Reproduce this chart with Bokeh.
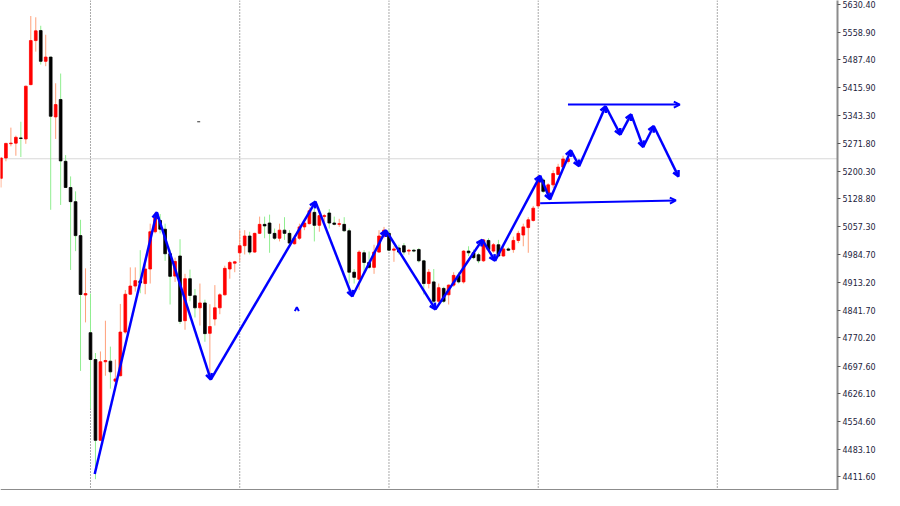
from bokeh.plotting import figure
from bokeh.models import (Range1d, FixedTicker, PrintfTickFormatter, LinearAxis, Span, Label,
                          Arrow, OpenHead, ColumnDataSource)
from bokeh.embed import file_html
from bokeh.resources import INLINE

# ---------------- data ----------------
opens = [5181.7, 5234.2, 5271.0, 5272.5, 5286.0, 5283.3, 5423.4, 5537.0, 5562.8, 5483.5,
         5494.5, 5340.1, 5385.1, 5225.7, 5158.1, 5121.6, 5034.0, 4880.8, 4783.7, 4714.4,
         4506.0, 4708.6, 4710.2, 4658.6, 4672.6, 4785.2, 4882.8, 4903.9, 4917.1, 4910.4,
         4947.9, 5044.0, 5073.0, 5050.5, 4987.2, 4929.6, 4981.4, 4814.5, 4922.9, 4878.8,
         4847.8, 4860.3, 4782.0, 4818.7, 4847.8, 4881.3, 4947.9, 4962.9, 4989.7, 5008.0,
         5033.0, 4991.5, 5039.8, 5063.0, 5066.5, 5039.8, 5027.2, 5048.0, 5039.8, 5013.0,
         5027.2, 5056.5, 5064.8, 5094.0, 5060.5, 5083.0, 5092.3, 5066.5, 5063.0, 5063.0,
         5046.5, 4939.6, 4921.4, 4989.7, 4964.7, 4952.1, 4991.5, 5033.0, 5039.8, 4996.4,
         5002.2, 5008.0, 4994.0, 4996.4, 4998.0, 4969.0, 4910.4, 4914.6, 4864.6, 4897.8,
         4881.3, 4906.3, 4931.4, 4914.6, 4994.0, 4989.7, 4984.7, 4969.0, 5021.5, 4994.0,
         5010.5, 4981.4, 4999.7, 4998.0, 5021.5, 5035.5, 5054.8, 5073.0, 5110.6, 5177.4,
         5144.1, 5164.9, 5191.7, 5210.7, 5225.0]
highs = [5236.0, 5273.3, 5312.5, 5291.8, 5327.6, 5420.5, 5600.4, 5597.1, 5575.3, 5552.1,
         5495.5, 5426.9, 5452.0, 5241.7, 5186.7, 5148.1, 5074.8, 4949.6, 4884.6, 4731.2,
         4735.2, 4814.5, 4747.7, 4714.4, 4857.8, 4893.8, 4952.1, 4952.1, 4996.4, 4964.7,
         5064.8, 5094.0, 5089.8, 5064.8, 4998.0, 4977.2, 5024.7, 4935.4, 4946.4, 4896.4,
         4910.4, 4868.8, 4857.1, 4906.3, 4885.4, 4956.4, 4968.9, 4968.9, 5048.0, 5048.0,
         5044.0, 5041.5, 5083.0, 5083.0, 5088.1, 5052.3, 5064.8, 5081.5, 5048.0, 5035.5,
         5064.8, 5073.0, 5106.6, 5106.6, 5094.0, 5089.8, 5102.3, 5083.0, 5077.3, 5081.5,
         5052.3, 4947.9, 4996.4, 4996.4, 4993.0, 5010.5, 5048.0, 5056.5, 5049.8, 5006.5,
         5010.5, 5014.7, 4999.7, 4999.7, 5002.2, 4971.5, 4947.9, 4947.9, 4910.4, 4902.1,
         4907.9, 4939.6, 4939.6, 4996.4, 5006.5, 4998.0, 4989.7, 5024.7, 5027.2, 5014.7,
         5023.0, 5014.7, 5004.0, 5031.5, 5046.5, 5064.8, 5081.5, 5110.6, 5189.9, 5181.7,
         5169.1, 5202.4, 5219.2, 5240.0, 5235.7]
lows = [5158.1, 5225.7, 5264.2, 5240.0, 5236.7, 5270.8, 5421.9, 5508.5, 5475.2, 5471.0,
        5100.6, 5283.3, 5113.1, 5157.4, 4945.4, 4993.9, 4685.1, 4810.2, 4587.5, 4405.8,
        4504.2, 4672.6, 4639.3, 4635.1, 4671.1, 4781.2, 4881.3, 4889.6, 4885.4, 4882.8,
        4910.4, 5039.8, 5039.8, 4969.0, 4856.3, 4914.6, 4806.2, 4791.2, 4864.6, 4822.8,
        4802.0, 4760.2, 4664.3, 4802.0, 4831.3, 4879.6, 4922.9, 4939.6, 4966.4, 4985.4,
        4985.4, 4989.7, 5038.0, 5027.2, 4989.7, 5023.0, 5019.0, 5023.0, 5010.8, 5010.8,
        5023.0, 5048.0, 5063.0, 5019.0, 5044.0, 5069.0, 5052.3, 5060.5, 5056.5, 5044.0,
        4910.4, 4910.4, 4893.8, 4939.6, 4947.9, 4935.4, 4989.7, 5027.2, 4993.9, 4966.4,
        4985.4, 4984.7, 4984.7, 4991.0, 4964.7, 4882.1, 4897.8, 4860.3, 4856.3, 4860.3,
        4856.3, 4902.1, 4910.4, 4910.4, 4981.4, 4972.9, 4962.9, 4966.4, 4994.0, 4989.7,
        4979.7, 4979.7, 4994.0, 4989.7, 5014.7, 5006.5, 4989.7, 5070.0, 5106.6, 5144.1,
        5140.0, 5156.6, 5189.9, 5206.6, 5220.0]
closes = [5234.2, 5271.8, 5272.5, 5287.5, 5284.5, 5419.4, 5537.0, 5562.1, 5483.5, 5494.5,
          5341.8, 5371.9, 5226.7, 5158.1, 5121.6, 5034.0, 4882.1, 4884.6, 4714.4, 4506.0,
          4708.6, 4711.9, 4682.6, 4664.3, 4785.2, 4882.8, 4903.9, 4917.9, 4912.1, 4947.9,
          5044.0, 5081.5, 5050.5, 4987.2, 4928.9, 4967.2, 4812.7, 4922.9, 4879.6, 4847.8,
          4860.3, 4781.2, 4799.5, 4847.8, 4881.3, 4949.6, 4964.7, 4966.4, 5008.0, 5033.0,
          4991.5, 5039.8, 5063.0, 5059.0, 5039.8, 5027.2, 5048.0, 5039.8, 5014.7, 5027.2,
          5056.5, 5066.5, 5098.0, 5060.5, 5085.6, 5085.6, 5066.5, 5063.0, 5064.8, 5046.5,
          4939.6, 4926.4, 4991.5, 4964.7, 4952.1, 4991.5, 5033.0, 5048.0, 4996.4, 4999.7,
          4991.5, 4991.5, 4996.4, 4994.0, 4969.0, 4910.4, 4939.6, 4864.6, 4899.6, 4864.6,
          4906.3, 4931.4, 4914.6, 4994.0, 4989.7, 4977.2, 4969.0, 5023.0, 4998.0, 5010.5,
          4981.4, 4999.7, 4996.4, 5021.5, 5039.8, 5056.5, 5074.8, 5104.8, 5177.4, 5148.1,
          5164.9, 5194.2, 5210.7, 5231.7, 5232.2]

ytick_values = [5630.40, 5558.90, 5487.40, 5415.90, 5343.30, 5271.80, 5200.30, 5128.80,
                5057.30, 4984.70, 4913.20, 4841.70, 4770.20, 4697.60, 4626.10, 4554.60,
                4483.10, 4411.60]
grid_bars = [18, 48, 78, 108, 144]
last_price = 5232.20

# hand-drawn zigzag (bar index, price)
zz_x = [18.85, 31.33, 42.18, 63.23, 70.62, 77.37, 87.35, 96.76, 99.32, 108.39,
        110.37, 114.57, 116.22, 121.55, 124.51, 126.68, 129.10, 131.22, 136.20]
zz_y = [4419.1, 5094.0, 4662.6, 5121.6, 4877.1, 5048.0, 4843.8, 5023.0, 4969.0, 5188.2,
        5127.4, 5254.2, 5213.2, 5367.6, 5294.3, 5346.8, 5262.5, 5316.8, 5186.2]
# horizontal arrowed lines
res_x = [113.98, 136.46]
res_y = [5371.9, 5371.9]
sup_x = [108.39, 135.67]
sup_y = [5117.3, 5124.8]
# stray small marks
caret_x = [59.48]
caret_y = [4849.5]
dash_x = [39.45, 40.05]
dash_y = [5327.6, 5327.6]

X_START, X_END = -0.09, 168.16
Y_START, Y_END = 4376.6, 5640.4

# ---------------- figure ----------------
W, H = 884, 490
AXW = 47
p = figure(width=W, height=H, output_backend="svg", toolbar_location=None,
           x_range=Range1d(X_START, X_END), y_range=Range1d(Y_START, Y_END),
           x_axis_location=None, y_axis_location=None,
           min_border_left=0, min_border_top=0, min_border_bottom=0, min_border_right=AXW)
p.outline_line_color = None
p.background_fill_color = "white"
p.border_fill_color = "white"
p.grid.visible = False

# vertical dotted grid
p.segment(x0=grid_bars, y0=[Y_START] * len(grid_bars), x1=grid_bars, y1=[Y_END] * len(grid_bars),
          line_color="#555555", line_width=1, line_dash="1 2")

# current price line
p.add_layout(Span(location=last_price, dimension="width", line_color="#d8d8d8",
                  line_width=1, level="underlay"))

# candles
xs = list(range(len(opens)))
up = [c >= o for o, c in zip(opens, closes)]
wick_col = ["#FFA07A" if u else "#90EE90" for u in up]
body_col = ["#FF0000" if u else "#000000" for u in up]
tops = [max(o, c) for o, c in zip(opens, closes)]
bots = [min(o, c) for o, c in zip(opens, closes)]
src = ColumnDataSource(dict(x=xs, h=highs, l=lows, t=tops, b=bots, wc=wick_col, bc=body_col))
p.segment(x0="x", y0="h", x1="x", y1="l", line_color="wc", line_width=1, source=src)
p.vbar(x="x", width=0.55, top="t", bottom="b", fill_color="bc", line_color="bc",
       line_width=0.8, source=src)

# blue arrowed zigzag
BLUE = "#0000FF"
zsrc = ColumnDataSource(dict(x0=zz_x[:-1], y0=zz_y[:-1], x1=zz_x[1:], y1=zz_y[1:]))
p.add_layout(Arrow(end=OpenHead(size=6, line_color=BLUE, line_width=2.5),
                   source=zsrc, x_start="x0", y_start="y0", x_end="x1", y_end="y1",
                   line_color=BLUE, line_width=2.5))
hsrc = ColumnDataSource(dict(x0=[res_x[0], sup_x[0]], y0=[res_y[0], sup_y[0]],
                             x1=[res_x[1], sup_x[1]], y1=[res_y[1], sup_y[1]]))
p.add_layout(Arrow(end=OpenHead(size=6, line_color=BLUE, line_width=2),
                   source=hsrc, x_start="x0", y_start="y0", x_end="x1", y_end="y1",
                   line_color=BLUE, line_width=2))
# stray caret and dash
p.add_layout(Arrow(end=OpenHead(size=4, line_color=BLUE, line_width=2),
                   x_start=caret_x[0], y_start=caret_y[0] - 4, x_end=caret_x[0], y_end=caret_y[0],
                   line_alpha=0))
p.line(dash_x, dash_y, line_color="#333333", line_width=1)

# bottom border
p.add_layout(Span(location=Y_START + 1.2, dimension="width", line_color="#8c8c8c", line_width=2))

# right price axis
yax = LinearAxis(ticker=FixedTicker(ticks=ytick_values, minor_ticks=[]),
                 formatter=PrintfTickFormatter(format="%.2f"))
yax.axis_line_color = "#8c8c8c"
yax.axis_line_width = 2
yax.major_tick_out = 3
yax.major_tick_in = 0
yax.minor_tick_out = 0
yax.minor_tick_in = 0
yax.major_tick_line_color = "#555555"
yax.major_label_text_font = "DejaVu Sans"
yax.major_label_text_font_size = "8px"
yax.major_label_text_color = "#1c1c3c"
yax.major_label_standoff = 2
p.add_layout(yax, "right")

# current price tag
p.add_layout(Label(x=W - AXW + 2, x_units="screen", y=last_price, y_units="data",
                   text="%.2f" % last_price, text_color="white", text_font="DejaVu Sans",
                   text_font_size="8px", text_baseline="middle", text_align="left",
                   background_fill_color="black", x_offset=0))

open("out.html", "w").write(file_html(p, INLINE))
